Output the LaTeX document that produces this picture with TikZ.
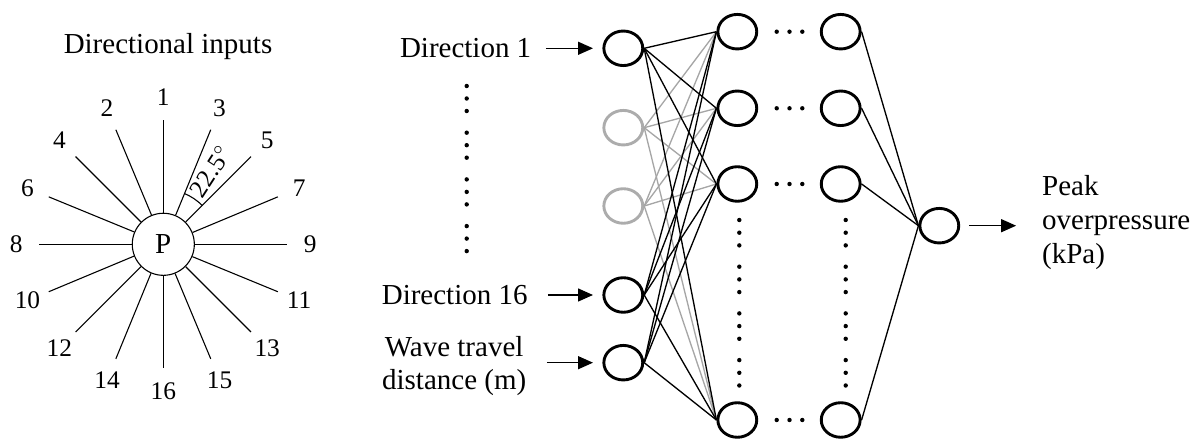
\documentclass[tikz,border=0pt]{standalone}
\usepackage{fontspec}
\setmainfont{Liberation Serif}
\usetikzlibrary{arrows.meta,shapes.geometric}

\begin{document}
\begin{tikzpicture}[x=0.414pt,y=0.414pt,
        txt/.style={font=\fontsize{12}{14}\selectfont,inner sep=0pt},
        num/.style={font=\fontsize{10.5}{12}\selectfont,inner sep=0pt},
        ray/.style={line width=0.45pt},
        neuron/.style={draw,ellipse,line width=1.2pt,minimum width=16.1pt,minimum height=14.3pt,inner sep=0pt},
        greyneuron/.style={neuron,draw=gray!65},
        link/.style={line width=0.55pt},
        greylink/.style={link,draw=gray!70},
        inarrow/.style={line width=0.5pt,-{Triangle[length=6.2pt,width=5.4pt]},shorten >=3.9pt}]
        \useasboundingbox (0,0) rectangle (1198,441);
        % \draw[step=50,black,thin] (0,0) grid (1198,441);
        % compass of directions
        \node[txt] (title) at (168,394.3) {Directional inputs};
        \node[draw,circle,ray,minimum size=25.7pt,txt] (P) at (163.3,196.7) {P};
        \foreach \k/\a in {1/90,2/112.5,3/67.5,4/135,5/45,6/157.5,7/22.5,8/180,9/0,10/202.5,11/337.5,12/225,13/315,14/247.5,15/292.5,16/270}{
            \draw[ray] (P.\a) -- ([shift={(\a:124)}]P.center);
            \node[num] (d\k) at ([shift={(\a:147)}]P.center) {\k};
        }
        \draw[ray] ([shift={(67.5:55)}]P.center) arc[start angle=67.5,end angle=45,radius=55];
        \node[num,rotate=57] (ang) at ([shift={(57:87)}]P.center) {22.5$^{\circ}$};
        % input layer
        \node[neuron] (i1) at (623.3,392.7) {};
        \node[greyneuron] (g1) at (623.3,313.3) {};
        \node[greyneuron] (g2) at (623.3,235) {};
        \node[neuron] (i16) at (623.3,146) {};
        \node[neuron] (iw) at (623.3,78.3) {};
        % hidden layers
        \foreach \n/\y in {1/409.3,2/332.7,3/257,4/21}{
            \node[neuron] (a\n) at (737.3,\y) {};
            \node[neuron] (b\n) at (840.7,\y) {};
        }
        \node[neuron] (out) at (939.3,215.3) {};
        % connections
        \foreach \s in {g1,g2}{
            \foreach \n in {1,...,4}{\draw[greylink] (\s.east) -- (a\n.west);}
        }
        \foreach \s in {i1,i16,iw}{
            \foreach \n in {1,...,4}{\draw[link] (\s.east) -- (a\n.west);}
        }
        \foreach \n in {1,...,4}{\draw[link] (b\n.east) -- (out.west);}
        % dots
        \foreach \g in {0,...,3}{
            \foreach \d in {0,1,2}{
                \fill (466.7,355-46.7*\g-12.5*\d) circle[radius=2.2];
                \fill (739.3,221-46.7*\g-12.7*\d) circle[radius=2.2];
                \fill (845.7,221-46.7*\g-12.7*\d) circle[radius=2.2];
            }
        }
        \foreach \y in {409.3,332.7,257,21}{
            \foreach \x in {776.7,789.5,802.3}{\fill (\x,\y) circle[radius=2.2];}
        }
        % labels and arrows
        \node[txt,anchor=east] (l1) at (531.7,392.7) {Direction 1};
        \node[txt,anchor=east] (l16) at (528,146) {Direction 16};
        \node[txt,anchor=east,align=center] (lw) at (526.7,75) {Wave travel\\distance (m)};
        \node[txt,anchor=west,align=left] (peak) at (1041.7,218.3) {Peak\\overpressure\\(kPa)};
        \draw[inarrow,shorten <=5.9pt] (l1) -- (i1);
        \draw[inarrow,shorten <=8.2pt] (l16) -- (i16);
        \draw[inarrow,shorten <=8.3pt] (lw.east |- iw) -- (iw);
        \draw[inarrow,shorten <=3.7pt,shorten >=10.6pt] (out) -- (peak.west |- out);
    \end{tikzpicture}
\end{document}
